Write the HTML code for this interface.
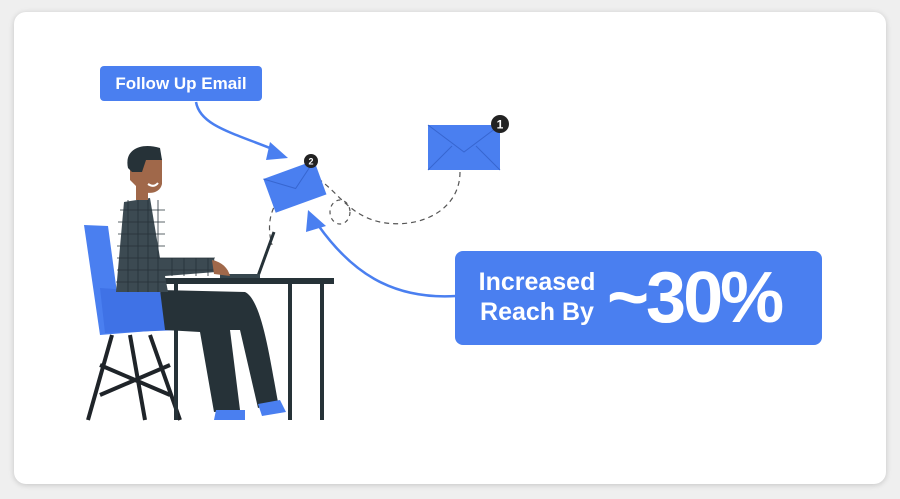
<!DOCTYPE html>
<html><head><style>
html,body{margin:0;padding:0;background:#efefef;width:900px;height:499px;overflow:hidden;font-family:"Liberation Sans",sans-serif}
.card{position:absolute;left:14px;top:12px;width:872px;height:472px;background:#fff;border-radius:12px;box-shadow:0 1px 6px rgba(0,0,0,.18)}
.b1{position:absolute;left:100px;top:66px;width:162px;height:35px;background:#4a7ff0;border-radius:4px;color:#fff;font-weight:bold;font-size:17px;line-height:35px;text-align:center}
.b2{position:absolute;left:455px;top:251px;width:367px;height:94px;background:#4a7ff0;border-radius:8px;color:#fff}
.t1{position:absolute;left:14px;top:16px;font-size:25px;font-weight:bold;line-height:30px;text-align:center;width:136px}
.t2{position:absolute;left:152px;top:4px;font-size:72px;font-weight:bold;letter-spacing:-3px;line-height:86px}
</style></head><body>
<div class="card"></div>
<svg width="900" height="499" style="position:absolute;left:0;top:0">
<path d="M196,102 C200,125 230,132 275,150" stroke="#4a7ff0" stroke-width="2.5" fill="none"/>
<path d="M270,142 L288,158 L266,160 z" fill="#4a7ff0"/>
<path d="M456,296 C390,300 350,270 318,225" stroke="#4a7ff0" stroke-width="2.5" fill="none"/>
<path d="M308,210 L326,226 L306,232 z" fill="#4a7ff0"/>
<path d="M460,172 C460,210 420,230 380,222 C350,215 340,195 320,180" stroke="#555" stroke-dasharray="5,4" stroke-width="1.2" fill="none"/>
<ellipse cx="340" cy="212" rx="10" ry="12" stroke="#555" stroke-dasharray="4,4" stroke-width="1.2" fill="none"/>
<path d="M278,200 C268,215 268,230 272,245" stroke="#555" stroke-dasharray="5,4" stroke-width="1.2" fill="none"/>
<rect x="428" y="125" width="72" height="45" fill="#4a7ff0"/>
<path d="M428,125 L464,152 L500,125 M428,170 L452,146 M500,170 L476,146" stroke="#3766d0" fill="none"/>
<circle cx="500" cy="124" r="9" fill="#222"/>
<text x="500" y="128.5" fill="#fff" font-size="12" font-weight="bold" text-anchor="middle">1</text>
<g transform="rotate(-20 294 187)">
<rect x="268" y="169" width="54" height="36" fill="#4a7ff0"/>
<path d="M268,169 L295,189 L322,169" stroke="#3766d0" fill="none"/>
</g>
<circle cx="311" cy="161" r="7" fill="#222"/>
<text x="311" y="164.5" fill="#fff" font-size="9" font-weight="bold" text-anchor="middle">2</text>
<path d="M84,225 L108,226 L118,300 L160,300 L162,330 L100,335 Z" fill="#4a7ff0"/>
<path d="M100,288 L160,292 L180,315 L180,330 L105,333 Z" fill="#3f72e6"/>
<path d="M112,335 L88,420 M150,335 L180,420 M130,335 L145,420 M100,365 L170,395 M170,365 L100,395" stroke="#1f2429" stroke-width="4"/>
<rect x="164" y="278" width="170" height="6" fill="#263238"/>
<path d="M176,284 L176,420 M290,284 L290,420 M322,284 L322,420" stroke="#263238" stroke-width="4"/>
<path d="M258,276 L274,232" stroke="#263238" stroke-width="3"/>
<rect x="220" y="274" width="40" height="4" fill="#37474f"/>
<path d="M160,290 L245,292 C262,300 270,360 278,402 L258,408 L240,330 L230,330 L240,410 L214,412 L200,332 L165,330 Z" fill="#263238"/>
<path d="M216,410 L245,410 L245,420 L214,420 Z M258,404 L280,400 L286,412 L262,416 Z" fill="#4a7ff0"/>
<path d="M124,202 L150,198 L160,258 L214,258 L216,272 L165,276 L168,292 L116,292 Z" fill="#3c4a52"/>
<g stroke="#26323a" stroke-width=".8">
<path d="M120,210 H165 M118,222 H165 M118,234 H165 M117,246 H165 M117,258 H215 M117,270 H215 M116,282 H168"/>
<path d="M128,200 V292 M138,200 V292 M148,200 V292 M158,200 V292 M172,258 V276 M184,258 V276 M196,258 V276 M208,258 V276"/>
</g>
<path d="M212,260 C222,262 228,268 230,276 L214,274 Z" fill="#a0684a"/>
<rect x="136" y="178" width="12" height="22" fill="#a0684a"/>
<path d="M130,158 C130,150 160,148 162,160 L162,184 C160,194 146,196 138,188 L130,180 Z" fill="#a0684a"/>
<path d="M128,168 C124,150 140,142 160,148 L162,160 L146,160 L142,172 L132,172 Z" fill="#263238"/>
<path d="M148,184 Q154,188 158,183" stroke="#fff" stroke-width="2" fill="none"/>
</svg>
<div class="b1">Follow Up Email</div>
<div class="b2"><div class="t1">Increased<br>Reach By</div><div class="t2">~30%</div></div>
</body></html>
